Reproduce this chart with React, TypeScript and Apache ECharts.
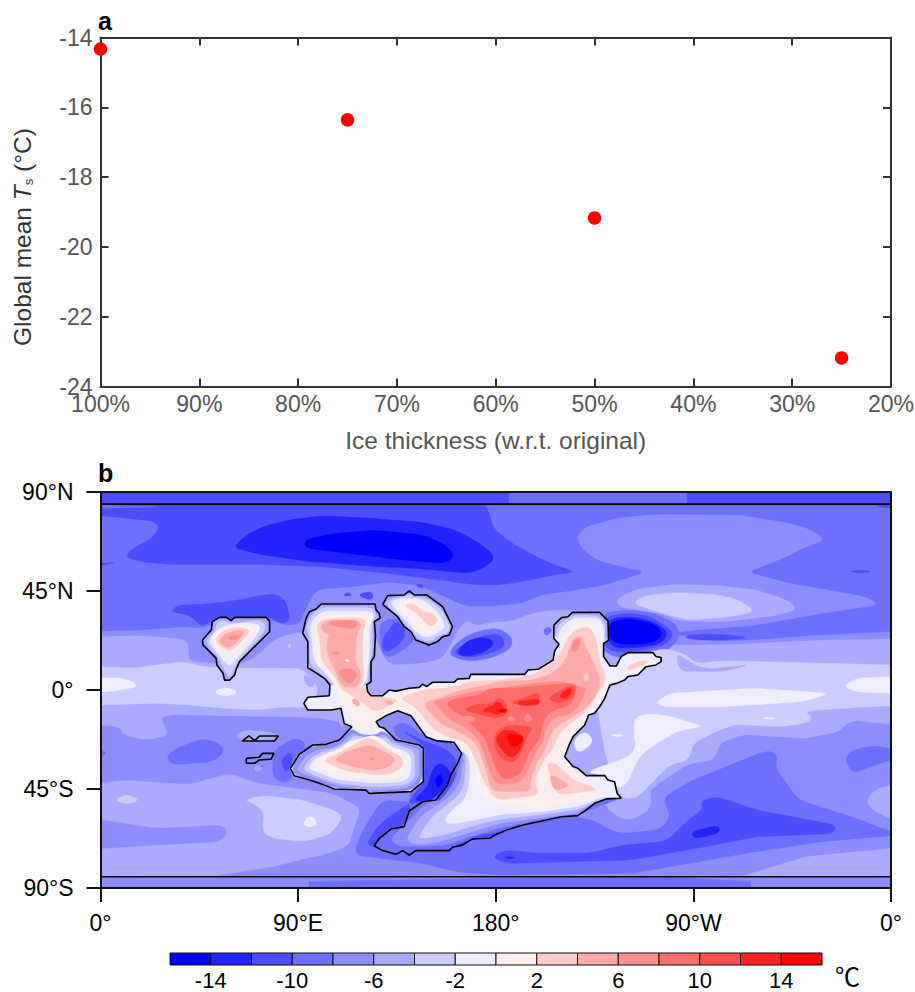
import React, { useEffect, useRef } from "react";
import * as echarts from "echarts";

// ---------- panel a ----------
const thickness = [100, 75, 50, 25];
const meanTs = [-14.33, -16.36, -19.17, -23.18];

// ---------- colour levels (-16 .. 16, 2 degree bins) ----------
const levelEdges = [-16,-14,-12,-10,-8,-6,-4,-2,0,2,4,6,8,10,12,14,16];
const LV = ["#0000ff","#2222ff","#4d4dff","#6e6eff","#8d8dff","#aaaaff","#ccccff","#eeeeff","#ffeeee","#ffcccc","#ffaaaa","#ff8d8d","#ff6e6e","#ff4d4d","#ff2222","#ff0000"];

// ---------- land outlines (lon, lat) ----------
const C1 = [100.5,39.1,125,39.1,125.5,36.4,127,34.8,127.3,32.6,124.7,31.1,125.2,25,124.7,15.2,123.2,12.9,123.2,3.8,121.2,2.3,121.7,-0.8,123.2,-2.6,128.5,-2.6,131.5,0,134.5,-0.5,140.6,0.8,145.2,1.2,146.7,2.7,148.5,1.5,151.2,3.5,161,3.5,162.6,5,167.9,5.3,168.6,7.1,193.2,7.1,194.7,9.1,199.3,9.4,206.1,13.6,206.8,17.7,208.8,20.8,206.4,23.5,206.5,29.5,209.9,32.9,212.9,33.3,214.9,35.3,227.3,35.3,231.1,31.4,231.4,22.7,229.1,21.2,229.1,15.2,232.1,10.9,234.9,10.9,237.1,15.2,240.2,17,251.5,17,253,15.2,255.3,14.8,255.3,12.9,253,11.4,248.5,10.6,244.7,6.8,240.2,6.1,238.7,4.5,234.9,3,232.1,2.3,231.1,0,229.6,-3.8,227.3,-7.6,225,-10.6,222.3,-11.4,220.5,-15.9,215.2,-21.2,213.4,-25,211.4,-30.3,215.2,-34.8,217.4,-35.6,221.2,-38.9,229.6,-38.9,231.1,-40.9,234.1,-41.7,235.3,-47,237.1,-49.2,230.3,-49.5,225,-51.5,221.2,-54.5,217.4,-57.1,209.9,-57.6,200,-59.8,192.5,-61.4,184.9,-63.6,179.6,-65.9,177.3,-67.4,169.4,-67.7,164.8,-70.5,160.3,-71.5,158.8,-73,146.7,-73,143.6,-73,140.6,-75,137.6,-73,134.5,-74.7,128.5,-73,124.7,-70.9,127,-67.4,132.3,-63.2,138.3,-62.1,140.6,-55,146.7,-50.8,152.7,-50,158,-43.2,159.5,-38.6,162.6,-33.3,164.5,-28.8,161,-23.8,152.7,-23,148.2,-21.2,141.4,-11.7,135.3,-9.4,130,-11.7,125.5,-14.4,127,-16.7,129.2,-17.4,134.5,-22.7,145.2,-25,147,-26.5,147,-41.7,141.4,-46.2,122.4,-47,120.9,-45.5,106.5,-45,101.2,-42.9,95.2,-40.9,88.3,-39,86.5,-35.6,90.6,-29.2,96.7,-25,102.7,-24.7,108.8,-22.7,114.5,-16.7,111,-15.2,109.5,-8.3,105,-9.1,94.4,-9.1,92.6,-6.1,94.4,-3.3,104.2,-2.6,104.5,2.3,102,5.3,94.4,10.2,94.4,22,92.1,25.8,93.6,32.6,95.2,35.6,98.2,36.8];
const C2 = [128.5,38.9,130.8,42.9,138.3,43.2,140.6,45,142.9,43.2,148.5,43.2,152.7,40.2,155.8,37.9,157.3,34.8,160.3,28.8,158.8,25,155.8,24.2,153.5,22,149.7,20.5,143.6,22.7,141.4,26.5,138.3,28.8,135.3,33.3];
const C3 = [46.4,22.7,50.5,27.3,50.9,31.1,54.2,33,57.3,33,59.5,31.5,61.1,33,75.5,33,77,31.1,77,26.5,63.3,12.9,61.8,9.5,61.1,6.8,58.8,4.5,56.5,4.5,55.8,7.6,53,11.4,52.7,14.4,46.7,20.5];
const C4 = [64.5,-23.2,67.6,-20.8,70.2,-23,72.4,-20.9,81,-20.9,79.2,-23.2];
const C5 = [66.4,-31.1,72.1,-30.6,73.9,-28.8,78.9,-28.8,77.7,-31.4,72.4,-31.8,70.2,-33.3,66.4,-33.3];

// ---------- filled temperature regions (lon, lat) ----------
const BASE = [0,-90,360,-90,360,90,0,90];
const STRIP_N = [0,84.5,360,84.5,360,90,0,90];
const STRIP_N2 = [186,84.5,267,84.5,267,90,186,90];
const STRIP_S = [0,-90,360,-90,360,-84.5,0,-84.5];
const STRIP_S2 = [95,-90,296,-90,296,-87,250,-84.5,95,-87];
const N_L2 = [0,84.5,175.5,84.5,175.5,83.8,177.3,79.5,178.8,73.5,186.4,67.4,195.5,62.1,206.1,57.1,216.7,53.5,207.6,52.6,195.5,50,181.8,47.7,172,47.7,162,49,131.5,53,101,56,71,57.1,31.5,57.1,17.9,58.3,11,60.6,14.8,64.4,22.4,68.2,26.5,72.7,25.5,76.5,13.3,78,0,79.2];
const N_L3S = [0,84.2,27,83.3,0,82.5];
const N_L2A = [0,57.6,8,58,0,56.5];
const N_L2B = [340,54,347,54.5,352,54,346,53];
const N_L2C = [351.5,83.8,360,84.2,360,82.6];
const N_L1 = [60.3,64.7,66.4,70.5,73.9,74.2,86,77.3,101.2,79.2,124,78,146.7,76.2,161.8,72.7,174,65.9,180,60.2,175.5,56,167.9,53,146.7,55,116.4,56.8,93.6,58.6,73.9,61.4];
const N_L0 = [92.9,68.2,104.2,70.8,124,72.7,146.7,70.5,155.8,66.7,161.8,61.4,157.3,57.6,139,59,116.4,61.7,93.6,64.4];
const L4_MAIN = [0,26.7,18,27.1,37.6,28.6,47,28,56,32,77,32,83,29.5,90.6,29.5,93.6,37,98.2,45.5,116.4,47,131.5,49,146.7,47,166,38,177.3,37.9,192.4,39.4,200,43,215,45,230,47.7,248.5,53.5,227,58.6,219.7,63.6,216.7,69.7,221,74.2,235,78,253,79.8,291,79.5,313.7,75.8,324,72.7,330,68.2,319.7,64.4,310.6,59.8,294.7,53.5,313.7,48.5,348.5,42.4,354.6,38.8,328.8,34.9,298.5,29.5,268,27,259,25.8,280,22,298.5,22.7,328.8,25,360,26.5,360,-84.5,0,-84.5];
const UP_L5 = [235,40.2,238,43.2,245.5,46,260.6,48,280.3,47.6,298.5,45.5,310.6,41.7,316,38.8,316,35.9,306,33.6,283.4,31,263.7,31.4,254.6,34.9,242.4,36.8,236.4,37.9];
const UP_L6 = [242.4,39.4,248.5,43.2,263.7,44.3,280.3,43.4,291,40.9,298.2,35.6,286.4,33.3,268.2,31.8,256,34.9,248.5,37.2];
const AF_L2 = [31.5,35.6,35.3,38.6,45.2,38.9,58.8,40.2,78.5,43.9,83.8,41.7,86,34.8,86,31.1,81.5,30.3,77,33.3,51.2,31.8,47.4,29.5,45.2,29.5,40.6,34.1];
const S_L2A = [110.3,42.7,112.6,44.7,114.8,42.7];
const S_L2B = [117.1,43.5,124,45,124,40.9,120,41.7];
const S_L2C = [143.6,47,145.6,48.8,147.4,46.2];
const L5_NORTH = [0,24.2,18,24.7,36,23.2,40,22,40,12.9,46.7,12.6,63.3,11.4,72.4,16,77.7,22,84.5,25,92,26.5,100,20,120,20,124,26.5,127.7,17.4,131.5,11.4,146.7,12,155.8,14.4,160.3,22,163.3,28,167,31.8,171,29,177.3,30.8,186.4,31,197,35,206,36.4,225,36,229,28,257.6,20.5,283.4,20.5,328.8,22.7,360,23.2,360,-15.6,341.7,-13.6,336.4,-18.9,321.2,-22,292.4,-20.2,281.8,-24.2,279.6,-31.8,268.2,-33.3,253,-43.2,250,-46.2,251,-53,245.5,-57.6,239.4,-59,234.1,-56.8,229.6,-52.3,225,-45,170,-20,150,-8,120,-5,112,-12,110.3,-17.4,108.8,-14.4,101.2,-12.9,86,-12.1,55.8,-11.7,31.5,-11.1,27,-12.9,31.5,-20.5,20.9,-22.7,10.3,-20.5,8.8,-16.7,0,-15.9];
const AS_L3 = [127,29.7,131.5,32.6,136,32,140.6,26.5,143,22.7,139,19,131.5,14.4,127.7,17.4];
const AS_L2 = [127.7,21.2,131.5,28,135.3,31.8,139,26.5,137.6,22,130,16.5];
const NP_L3 = [158,15.9,163.3,22.7,171,26.5,181.5,28.3,188,23.5,186.4,18.2,177.3,14.4,167.9,12.9];
const NP_L2 = [160.3,16.7,164.8,20.5,172.4,24.2,180.8,25.8,184,22.7,183.4,19,177.3,16.7,167.9,14.4];
const NP_L1 = [161.8,16.7,167.1,22.7,175.5,24.2,180,21.2,174,16.7,166.4,15.2];
const SP_L3 = [201.5,27.3,203.8,28.8,206,27.3,203,24.2];
const AM_L3 = [229,35,240,36.5,252,35,262,30,264,25,260,19,250,15.5,236,14.5,228,18];
const AM_L2 = [230,33.3,240,35,250,33.6,259,28,261,25,257,20.3,247,18.2,235,17,229,20];
const AM_L1 = [231,31.8,238,33.3,247,32.6,256,28.8,258.4,25,254.6,20.8,245.5,19.4,235,19,231,22];
const AM_L0 = [231.5,30.3,238,32.3,245.5,31.8,253,29.5,256,25.8,253,22,245.5,20.8,236.4,20.8,231.8,23.5];
const DASH_L2 = [265,24.2,274.3,25.5,286.4,25,295.5,23.8,283.4,22.7,271.2,22.7];
const W_L6 = [0,10.6,15,10,37.6,12.9,46.7,10.6,63.3,10,92,9.8,100,0,93.6,-8.3,86,-7.6,71,-9,55.8,-8.3,40.6,-6.8,25.5,-6,0,-6.8];
const W_L5A = [92.9,7.6,98.2,3,95.2,0.8,92.6,4.5];
const W_L6A = [85.3,20.5,86.8,20.8,86,18.2];
const W_L7A = [0,5.3,10.3,5.6,18,2,10,0,0,-1];
const W_L7B = [51,-0.8,58,1.5,63.3,-1.5,56,-3];
const E_L6 = [257.6,19,266.7,16,271.2,12,283.4,13.2,300,12.9,313.7,12.6,360,11.4,360,-7.1,320.5,-9.5,324.6,-12.9,320.5,-15.2,309,-16.7,289.4,-15.6,281.8,-18.2,269.7,-24.2,268.2,-31.8,259,-34,251.5,-41.7,244,-49.2,237,-49.2,230,-30,225,0,240,15];
const E_L5W = [262,17,271,11,277,9.5,296,11.5,283.4,8.5,263.7,8.5];
const E_L7A = [253,-5.3,259,-1.5,298.5,0.8,332,-1.5,320,-5.3,283.4,-7.6,256,-7.6];
const E_L7B = [338,1.5,344,5.3,360,6,360,-1.5,344,-0.8];
const E_L7C = [300,-12.8,307,-12.3,307,-13.5];
const E_L7D = [243,-12.1,251.5,-10.6,260,-12.1,275,-16.7,263.7,-18.2,256,-22.7,248.5,-27.3,244,-32.6,240,-42.4,235.6,-44.7,228.8,-38.6,221.2,-37.4,230.3,-34,241,-30.3,244,-25,242.8,-20.5];
const E_L7E = [215,-23.5,220.5,-18.2,225,-23.5,217.5,-29.2];
const E_L7F = [232,-20.5,235.6,-20,239,-20.7,235.6,-21.3];
const S_L5 = [0,-42.4,11.8,-41,30,-42.4,40.6,-42.9,58.8,-37.9,70.9,-42.4,89,-44.7,105.8,-47,118.6,-53.8,114.8,-64.4,113.3,-70.5,104.2,-74.2,93.6,-76.5,78.5,-80.3,63.3,-82.6,52.7,-84.4,0,-84.5];
const S_L4P = [0,-59,25.5,-62.9,55.8,-61.4,58,-65.2,54.2,-68.9,25.5,-70.5,0,-72];
const S_L6A = [6.5,-50,11.8,-47.3,18.2,-50,11.8,-52];
const S_L6B = [65.6,-50,73.9,-48,92,-50,108,-55.3,110.3,-58.3,104.2,-65.9,92,-68.9,78.5,-67.4,73.6,-64.4,74.7,-55.3,69.4,-51.5];
const S_L7 = [93.9,-57.6,97.4,-57.6,98.9,-62.1,92.1,-62.1];
const E_L5A = [292.4,-84.5,321.2,-75.8,360,-72,360,-84.5];
const E_L5B = [348.5,-50,353,-45.2,360,-43.2,360,-58.6,351.5,-54.5];
const E_L3P = [338.7,-31,342.5,-27.3,351.5,-25.3,360,-26.5,360,-31.8,348.5,-35.6,342.5,-37.9];
const S_L3 = [128.5,-50,123.2,-57.6,117.9,-66.7,115.6,-75,131.5,-77,146.7,-78.8,155,-80.8,161.8,-82.6,181.5,-84.1,242.5,-83.3,268.2,-78.8,298.5,-73.5,328.8,-68.9,360,-66.2,360,-64.4,344,-58.3,318,-50,307.3,-35.6,308.4,-28.8,303,-27.7,292.4,-31.8,268.2,-41.7,256,-49.2,259.9,-57.6,254.6,-63.6,238,-65.2,231.8,-63.6,225.8,-59.8,219.7,-58.3,207,-55.3];
const S_L2 = [273.5,-50,274.3,-54.5,266.7,-59.8,257.6,-68.9,238,-70.5,222.8,-74.2,198.5,-74.2,184.9,-72.7,178,-75.8,184.9,-78.8,215.2,-78,241,-77.3,271.2,-72,298.5,-66.7,334,-65.2,334.9,-61.4,298.5,-54.5,281.1,-48.5];
const S_L1A = [269,-64.4,281.8,-61.4,281.8,-65.2,270.5,-67.7];
const S_L1B = [183.4,-75.8,189.4,-76,186.4,-76.8];
const ST_L2 = [121.7,-68.9,126.2,-62.1,131.5,-57.6,138.3,-53,145.2,-50,146.7,-51,140.6,-55,138.3,-62.1,132.3,-63.2,127,-67.4,124.7,-70.9,122.4,-70.5];
const BAY_L3 = [133,-17.4,136.8,-14.4,142,-16.7,148.5,-22,161,-24.2,164.8,-28.8,159.5,-41.7,152.7,-50.8,140.6,-55.3,140.6,-46.2,147.4,-40.9,147.4,-25.8,136,-22.7];
const BAY_L2 = [136.8,-18.2,148.2,-23.5,157.5,-27,162.4,-31.8,160.6,-37,151.5,-50,140,-52,142.4,-47.7,147.4,-42,148.2,-25.8];
const BAY_L1 = [153.8,-33,157.5,-34.8,159.8,-37.9,158.3,-42.4,151.5,-50,145.4,-50.7,143,-49.5,149.2,-43.9,150.7,-37];
const BAY_L0 = [152.2,-40.9,154.5,-37.9,156.3,-40.9,153.8,-45.1];
const SW_L3A = [29.7,-30.3,34.5,-26.5,46.7,-22,54.2,-24.2,56.5,-28,51.2,-32.6,33,-34];
const SW_L3B = [0,-27,3,-28.8,0,-30.3];
const SW_L3C = [78.5,-31.8,79.2,-27.3,87.6,-22,92.1,-22.7,93.6,-26.5,89,-29.5,86,-35.6,87.6,-40.2,83,-42.4,78.5,-39.4];
const SW_L2 = [82.3,-31.8,86,-28,87.6,-31,86,-36.4,83.8,-37.1];
const SW_L5A = [69.4,-35.6,71.7,-34.1,73.9,-35.6,71.7,-37.4];
const SW_L5B = [61.4,-20.5,65.6,-18.2,77,-18.9,81,-20.9,79.2,-23.2,64.5,-23.2];
// land interiors
const C3_L6 = [48.2,22.7,52,26.5,52.7,30.3,55.8,31.8,59.5,30.3,72.4,31.8,75.5,29.5,73.2,24.2,66.4,17.4,61.8,12.1,59.5,6.1,58,6.1,55.8,10.6,53.5,15.2,48.9,20.5];
const C3_L7 = [49.4,22.7,53.5,28,60.3,30.3,70.9,30.3,73.2,28,67.9,20.5,61.8,14.4,58.8,10.6,55.8,13.6,50.5,20.5];
const C3_L8 = [50.9,23.5,54.2,27.3,61.8,29.5,69.4,28.8,70.2,25.8,63.3,18.9,58.8,15.9,55,16.7,52,20.5];
const C3_L9 = [52.4,23.5,55,26.5,61.8,28.8,67.9,27.7,67.1,25,60.3,18.2,57.3,18.2,53.5,20.5];
const C3_L10 = [54.2,23.5,58.8,26.5,66.4,27.7,63.3,22.7,58.8,18.9,55,20.5];
const C3_L11 = [57.6,23.8,61.1,25,64.1,24.2,60.6,22.3];
const C2_L6 = [130,38.9,132.3,41.7,138.3,42,140.6,43.6,142.9,42,148.2,42,155,37.1,159.5,28.8,158,25.8,155,25.3,149.7,21.7,144.4,23.5,135.3,34.1];
const C2_L7 = [132.3,39.4,133.8,40.9,140.6,42,147.4,40.9,154.2,34.8,157.3,28.8,154.2,26.5,149.7,23.8,145.2,25,140.6,30.3,136,34.8];
const C2_L8 = [134.5,38.9,140.6,41.4,146.7,39.4,152.7,34.8,155.8,29.5,152,26.5,148.9,25.3,144.4,28,140.6,32.6,137.6,35.6];
const C2_L9 = [138.3,38.6,142.9,39.4,146.7,35.6,152,34.8,154.2,31,149.7,28.3,144.4,34.8,140.6,37.1];
const NB_L5 = [92.1,25.8,93.6,32.6,95.2,35.6,98.2,36.8,100.5,39.1,125,39.1,125.5,36.4,127,34.8,127.3,32.6,124.7,31.1,125.2,25,124.7,15.2,123.2,12.9,123.2,3.8,121.2,2.3,118,1.5,104.5,2.3,102,5.3,94.4,10.2,94.4,22];
const NB_L6 = [93.6,29.5,96.7,34.8,101.2,37.6,123.9,37.6,125.8,34.1,123.6,30.8,123.9,22,123.2,14.4,122.1,11.4,122.1,3.8,119.4,2.3,105.8,2.3,101.2,6.8,95.4,11.4,95.2,22];
const NB_L7 = [95.2,28.8,98.2,33.8,102,35.9,123.2,35.9,124.7,33.3,122.4,29.5,122.7,20.5,122.1,12.9,120.9,2.3,106.5,2.3,102.7,7.6,97,12.9,96.4,22];
const NB_L8 = [97,28.8,99.7,32.6,102.7,34.1,121.7,34.1,123.2,31.8,121,28,121,20.5,120.6,11.4,120.2,0.8,108,-0.8,104.2,6.8,98.5,12.9,97.9,22];
const NB_L9 = [98.2,29.5,101.2,32.3,118.6,32.9,121.2,31,119.4,26.5,119.4,18.9,119.1,12.9,120.2,8.3,118.6,0.8,110.3,-1.5,106.5,6.8,100.5,12.9,100,22];
const NB_L10 = [100.5,29.8,104.2,31.8,117.1,31.8,119.1,29.5,116.4,25,116.4,17.4,115.6,12.9,119.4,6.8,116.4,0.8,110.3,0.8,107,8.3,103.5,15.9,103,22,104.5,25,101.2,26.5];
const NB_L11A = [104.2,31.5,116.4,31.8,117.1,28.8,114.8,27.7,104.2,29.5];
const NB_L11B = [108,9.5,115.6,9.8,117.1,6,113.3,2.3,109.5,6];
const NB_L11C = [104.5,16.7,108.8,17.4,108,15.9];
const NB_L8T = [111,12.9,112.1,14.4,114,12.9];
const SB_L4 = [87,-35.6,90.9,-29.5,97,-25.3,103,-25,109.1,-23.2,114.1,-17.1,118.6,-20.5,125.5,-20.5,128.5,-18.2,134.5,-23.2,145.5,-25.6,146.5,-26.5,146.5,-41.4,141,-45.8,122.7,-46.5,121.2,-45,106.7,-44.5,101.2,-42.4,95.2,-40.5,88.6,-38.6];
const SB_L5 = [89.4,-35.6,93.3,-30.3,98.9,-27,105,-26.5,110.3,-24.2,114.8,-18.9,119.4,-22,125.5,-21.7,129.2,-19.7,133.8,-23.8,144.4,-26.5,145.2,-28.8,145.2,-40.2,139.8,-44.7,123.2,-45.5,107.3,-43.5,102,-41.4,95.9,-39.4,90.6,-37.4];
const SB_L6 = [92.1,-35.6,95.9,-30.8,101.2,-28,107.3,-26.5,111.8,-24.2,115.6,-20.5,125.5,-22.7,130,-21.2,133,-24.7,142.9,-27.3,143.3,-40.2,139.1,-43.2,123.9,-44.1,108,-42.4,101.2,-40.2,95.2,-37.9];
const SB_L7 = [94.4,-35.6,97.4,-31.4,103,-28.8,109.5,-26.5,114.8,-22,125.5,-23.5,132.3,-25.8,141.4,-28.8,141.4,-38.6,138.3,-41.7,125.5,-42.4,108.8,-40.9,102,-38.6,96.7,-36.4];
const SB_L8 = [96.7,-34.1,101.2,-29.8,107.3,-28,114.8,-23.5,120.9,-21.2,125.5,-20.5,134.5,-27.3,139.1,-30.3,139.1,-37.9,136,-40.2,125.5,-40.9,110.3,-39.4,104.2,-37.4,99.7,-35.6];
const SB_L9 = [101.2,-31.8,110.3,-28,116.4,-24.2,122.4,-21.2,131.5,-27.3,139.1,-31.8,134.5,-37.9,125.5,-38.6,113.3,-37.1,105,-34.1];
const SB_L10 = [105.8,-31.8,111.8,-28,123.2,-24.7,135.3,-31.4,130.8,-35.3,123.9,-36.7,114.8,-34.8];
const SB_L11 = [122.4,-31.4,123.9,-30.5,124.7,-31.7];
const ARM_OUTER = [164.5,-28.8,162.6,-33.3,159.5,-38.6,158,-43.2,152.7,-50,146.7,-50.8,140.6,-55,138.3,-62.1,132.3,-63.2,127,-67.4,124.7,-70.9,128.5,-73,134.5,-74.7,137.6,-73,140.6,-75,143.6,-73,146.7,-73,158.8,-73,160.3,-71.5,164.8,-70.5,169.4,-67.7,177.3,-67.4,179.6,-65.9,184.9,-63.6,192.5,-61.4,200,-59.8,209.9,-57.6,217.4,-57.1,221.2,-54.5,225,-51.5,230.3,-49.5,237.1,-49.2];
const ARM_IN_L6 = [228.8,-48.5,218.2,-53,200,-55.6,181.8,-56.8,168.2,-59.8,158.3,-61.3,156.3,-59,160.6,-53.8,165.9,-50,167.9,-42.4,168.2,-33.3,166.6,-28.8];
const ARM_IN_L5 = [227.3,-50,218.2,-54.5,200,-56.8,181.8,-59,171.2,-61.3,157.5,-65.9,145.4,-67.9,145.1,-65.9,151.5,-56.8,159.8,-50.7,165.1,-45.4,165.9,-37.8,166.3,-31.8,165.6,-28];
const ARM_IN_L4 = [225.8,-50.8,217.4,-56,200,-58.3,181.8,-60.9,169.7,-64.4,153,-69.7,142.4,-70.4,139.4,-67.9,140.1,-65.9,145.4,-57.5,152.2,-53,159.8,-47.7,163.9,-41.6,164.4,-35.6,165.4,-29.5];
const ARM_IN_L3 = [216.7,-56.8,200,-59,181.8,-62.9,171.2,-65.9,156,-70.9,136.3,-71.2,132.5,-68.9,133.3,-65.9,139.4,-60.6,145.4,-53.8,153,-48.5,160.6,-42.4,162.4,-37.9,163.6,-33.3];
const ARM_L2A = [179.6,-65.9,177.3,-67.4,169.4,-67.7,164.8,-70.5,160.3,-71.5,161.3,-71,171.2,-66.4,181.8,-64.6];
const ARM_L2B = [161,-35.5,159.5,-38.6,158,-43.2,152.7,-50,154.5,-50.5,160,-43.5,162,-38];
const NA_L6 = [206.5,29.5,209.9,32.9,212.9,33.3,214.9,35.3,227.3,35.3,231.1,31.4,231.4,22.7,229.3,22,229.3,29.5,226.5,33,216,33,213,31.2,209.9,28.6,208.4,24.8,207.6,22.5];
const NA_L5 = [206.5,29.5,209.9,32.9,212.9,33.3,214.9,35.3,227.3,35.3,231.1,31.4,231.4,22.7,229.9,23.5,229.9,30.3,226.5,34.1,215.2,34.1,212.1,32.3,208.4,29.5,207.3,26.5,207,23.5];
const PE_L8 = [237.9,8.3,243.2,13.6,250,14.7,251.5,12.9,245.5,9.8,240.2,6.8];
const PE_L9 = [239.4,10,244,12.9,248.5,13.6,249.7,12.6,245.5,10.6,241,8.8];
const WARM_L8 = [106.5,0,111,-6.8,114.8,-14.4,117.9,-18.9,124,-15.2,131.5,-10.6,135.3,-8,141.4,-10.2,149,-18.9,153.5,-21.2,161.8,-22,167,-27,169.7,-31.8,171.2,-42.4,174.5,-49,181.8,-52.2,200,-53.5,222.8,-50,228,-47,227.3,-45,219.7,-40.9,213.7,-34.8,209.9,-30.3,212.9,-24.2,216.7,-18.9,222,-12.9,226.5,-6.8,229.6,0,230.3,3.8,228,12.9,226.5,23.5,224.3,30.3,218.2,31,212.9,28,209.9,22,209.9,15.9,206,11.4,200,8,193.2,5.6,167.9,3.5,161,2,151.2,1.5,142,-0.8,134.5,-2,128.5,-3.8,122.4,-3.8,121,-1.5];
const IS_L9 = [108,1.5,114.8,-3,120.9,-6.8,123.9,-9.8,128.5,-9.1,131.5,-6.8,136,-4.5,127,-3,122.4,-2.3,121.7,0.8];
const IS_L10A = [114,-4.5,116.4,-3.8,118.6,-6.8,116.4,-7.6];
const IS_L10B = [129.2,-5.3,131.5,-4.5,133.8,-6,131.5,-7.1];
const WARM_L9 = [146.7,0,161.8,1.5,167.9,3.8,181.8,4.5,197,6.8,204.6,12,209.9,17.4,212.9,24.2,217.4,28,222.8,28.8,225.8,23.5,227.3,12.9,230.3,6.8,229.6,2.3,227.3,0,224.3,-5.3,220.5,-10.6,213.7,-15.2,208.4,-20.5,206,-27.3,203,-30.3,199.3,-37.1,197.8,-41.7,200,-47.7,180,-50,175,-42.4,171,-32,167,-24,155.8,-20.5,149.7,-15.9,145.2,-9.8,140.6,-6,136,-3.8];
const TAIL_L9 = [203,-34,207.6,-47.7,227.3,-45.5,215.2,-40.9,210.6,-36.4,206,-32.6];
const TAIL_L8 = [199.3,-37.9,203,-32.6,206.8,-47.7,202.3,-48.5];
const TAIL_L10 = [204.6,-37.9,214.4,-43.2,207.6,-45.9,205.3,-43.2];
const WARM_L10 = [161.8,-0.8,181.5,3.8,197,4.5,206.1,7.6,211.4,12.9,213.7,18.9,215.2,23.5,219,25,220.5,20.5,224.3,12.9,228,3.8,225.8,-2.3,221.2,-8.3,213.7,-12.9,208.4,-15.9,204.6,-20.5,202.3,-28,198.5,-33.3,195.5,-41.7,196.2,-46.2,178,-46,177,-41.5,174.2,-31.8,171,-23.7,163.3,-18.9,155.8,-15.9,151.2,-11.4,146.7,-6,154.2,-3.8];
const WARM_L11 = [221.2,0,218.2,-6.8,213.7,-11.4,206.8,-12.1,203,-16.7,201.5,-23.5,198.5,-28,196.2,-33.3,193.2,-39.4,190.2,-42.4,180,-43,177,-36.4,175,-29.5,172,-22,164.8,-15.9,158.8,-13.6,154.2,-8.3,151.2,-5.3,157.3,-3.8,169.4,-0.8,181.8,0.8,192.5,2.3,203,3.8,212.1,3.8,215.2,2.3,221.2,0.8];
const FIN_L11 = [213.7,18.9,217.5,24.2,219,21.2,216,16.7];
const SPOT_L9 = [219.7,5.3,221.2,8.3,222.8,5.6,221.2,3.8];
const WARM_L12 = [217.4,2.3,215.2,-5.3,212.1,-7.6,206.1,-9.1,201.5,-13.6,200,-22.7,196.2,-26.5,193.2,-33.3,191.7,-37.9,184.9,-40.9,182,-39,179,-33,177,-26.5,174,-20.5,166.4,-12.9,160.3,-9.1,157.3,-6,161.8,-3.8,172.4,-2.3,177,0.8,186.4,0.8,203,2.3,213.7,3];
const L13A = [180.3,-18.2,186.4,-15.9,197,-16.7,194.7,-20.5,192.5,-26.5,188.7,-33.3,182.6,-31.8,178.8,-25];
const L13B = [164.8,-9.1,171.6,-6,177.3,-6.8,181.8,-3,184.9,-6.8,185.6,-10.6,181.8,-12.9,177.3,-12.1,171,-10.5];
const L13C = [186.4,-6,200,-0.8,200,-5.3,192.5,-6.8];
const L13D = [204.6,-3,213.7,2.3,216.7,0.8,214.4,-4.5,208.4,-6,204.6,-4.5];
const L14A = [180.6,-20.5,184.9,-17.4,192.5,-20.5,192.5,-25,187.9,-31.8,182.6,-27.3,180.3,-23.5];
const L14B = [177.3,-8.3,181.1,-4.5,184.1,-8.3,181.8,-11.4,177.3,-10.6];
const L14C = [189.4,-5.3,200,-3.8,200,-6.8,190.9,-7.1];
const L14D = [208.4,-2.3,214.4,1.5,214.4,-1.5,211.4,-4.5];
const L14E = [173.2,-9.1,179.2,-6.8,177,-10.6];
const L15A = [185.2,-19.7,191.7,-20.5,192.5,-22.7,188.7,-26.5,185.6,-23.5];
const L15B = [181.1,-9.1,184.9,-8.3,184.9,-10.2,181.8,-10.2];
const PK_A = [184.9,-12.9,187.6,-11.7,189.4,-13.6,187.1,-14.4];
const PK_B = [192.5,-12.9,194.7,-10.2,197,-13.6,194.3,-14.7];
const PK_C = [163.3,-12.9,167.9,-11.4,171.7,-13.3,167.9,-15.2];

// paint order: each entry is [colour level, outline]
const LAYERS: [number, number[]][] = [
  [3,BASE],[2,STRIP_N],[3,STRIP_N2],[4,STRIP_S],[3,STRIP_S2],
  [2,N_L2],[3,N_L3S],[2,N_L2A],[2,N_L2B],[2,N_L2C],[1,N_L1],[0,N_L0],
  [4,L4_MAIN],[5,UP_L5],[6,UP_L6],[2,AF_L2],[2,S_L2A],[2,S_L2B],[2,S_L2C],
  [5,L5_NORTH],[3,AS_L3],[2,AS_L2],[3,NP_L3],[2,NP_L2],[1,NP_L1],[3,SP_L3],
  [3,AM_L3],[2,AM_L2],[1,AM_L1],[0,AM_L0],[2,DASH_L2],
  [6,W_L6],[5,W_L5A],[6,W_L6A],[7,W_L7A],[7,W_L7B],
  [6,E_L6],[5,E_L5W],[7,E_L7A],[7,E_L7B],[7,E_L7C],[7,E_L7D],[7,E_L7E],[7,E_L7F],
  [5,S_L5],[4,S_L4P],[6,S_L6A],[6,S_L6B],[7,S_L7],
  [5,E_L5A],[5,E_L5B],[3,E_L3P],[3,S_L3],[2,S_L2],[1,S_L1A],[1,S_L1B],[2,ST_L2],
  [3,BAY_L3],[2,BAY_L2],[1,BAY_L1],[0,BAY_L0],
  [3,SW_L3A],[3,SW_L3B],[3,SW_L3C],[2,SW_L2],[5,SW_L5A],[5,SW_L5B],
  [5,C3],[6,C3_L6],[7,C3_L7],[8,C3_L8],[9,C3_L9],[10,C3_L10],[11,C3_L11],
  [5,C2],[6,C2_L6],[7,C2_L7],[8,C2_L8],[9,C2_L9],
  [7,C1],
  [6,[...ARM_OUTER,...ARM_IN_L6]],[5,[...ARM_OUTER,...ARM_IN_L5]],[4,[...ARM_OUTER,...ARM_IN_L4]],[3,[...ARM_OUTER,...ARM_IN_L3]],[2,ARM_L2A],[2,ARM_L2B],
  [6,NA_L6],[5,NA_L5],[8,PE_L8],[9,PE_L9],
  [4,SB_L4],[5,SB_L5],[6,SB_L6],[7,SB_L7],[8,SB_L8],[9,SB_L9],[10,SB_L10],[11,SB_L11],
  [5,NB_L5],[6,NB_L6],[7,NB_L7],[8,NB_L8],[9,NB_L9],[10,NB_L10],[11,NB_L11A],[11,NB_L11B],[11,NB_L11C],[8,NB_L8T],
  [8,WARM_L8],[9,IS_L9],[10,IS_L10A],[10,IS_L10B],[9,WARM_L9],[9,TAIL_L9],[8,TAIL_L8],[10,TAIL_L10],
  [10,WARM_L10],[11,WARM_L11],[11,FIN_L11],[9,SPOT_L9],[12,WARM_L12],
  [13,L13A],[13,L13B],[13,L13C],[13,L13D],[14,L14A],[14,L14B],[14,L14C],[14,L14D],[14,L14E],[15,L15A],[15,L15B],
  [11,PK_A],[11,PK_B],[11,PK_C],
];
const OUTLINES = [C1, C2, C3, C4, C5];
const polarLines = [84.5, -84.9];
// outlines that keep their hard corners when drawn
const HARD = new Set<number[]>([BASE, STRIP_N, STRIP_N2, STRIP_S, STRIP_S2, C1, C2, C3]);

const pairs = (f: number[]) => {
  const out: number[][] = [];
  for (let i = 0; i < f.length; i += 2) out.push([f[i], f[i + 1]]);
  return out;
};
const closed = (f: number[]) => { const p = pairs(f); return [...p, p[0]]; };
// softens the polygon corners, as a contour plot's curves have no hard joints
const soften = (pts: number[][], cap: number) => {
  const out: number[][] = [];
  pts.forEach((p, i) => {
    if (p[0] <= 0 || p[0] >= 360 || Math.abs(p[1]) >= 84) { out.push(p); return; }
    const side = (q: number[]) => {
      const d = Math.hypot(q[0] - p[0], q[1] - p[1]) || 1;
      const t = Math.min(0.25, cap / d);
      return [p[0] + (q[0] - p[0]) * t, p[1] + (q[1] - p[1]) * t];
    };
    out.push(side(pts[(i + pts.length - 1) % pts.length]), side(pts[(i + 1) % pts.length]));
  });
  return out;
};
const outline = (f: number[]) =>
  HARD.has(f) ? pairs(f) : soften(soften(pairs(f), 2), 1);
const DRAWN = LAYERS.map(([, f]) => outline(f));

const FONT = '"Liberation Sans", Arial, sans-serif';

export default function App() {
  const ref = useRef<HTMLDivElement>(null);
  useEffect(() => {
    const chart = echarts.init(ref.current!, null, { renderer: "svg" });
    const lineSeries = (data: number[][]) => ({
      type: "line", xAxisIndex: 2, yAxisIndex: 2, data, showSymbol: false, silent: true, z: 4,
      lineStyle: { color: "#000", width: 1.6 }, animation: false,
    });
    chart.setOption({
      animation: false,
      backgroundColor: "#fff",
      textStyle: { fontFamily: FONT },
      grid: [
        { left: 100.5, top: 37.5, width: 790.5, height: 349, outerBoundsMode: "none" },
        { left: 100.5, top: 492, width: 790.5, height: 396, outerBoundsMode: "none" },
        { left: 170, top: 953, width: 652, height: 12, outerBoundsMode: "none" },
      ],
      xAxis: [
        { gridIndex: 0, type: "value", min: 20, max: 100, interval: 10, inverse: true, z: 5,
          name: "Ice thickness (w.r.t. original)", nameLocation: "middle", nameGap: 41,
          nameTextStyle: { color: "#555", fontSize: 24.5, fontFamily: FONT },
          axisLine: { onZero: false, lineStyle: { color: "#333", width: 2 } },
          axisTick: { inside: true, length: 8, lineStyle: { color: "#333", width: 2 } },
          axisLabel: { color: "#555", fontSize: 23, margin: 6, fontFamily: FONT, formatter: (v: number) => `${v}%`, hideOverlap: false },
          splitLine: { show: false } },
        { gridIndex: 0, type: "value", min: 20, max: 100, interval: 10, inverse: true, position: "top", z: 5,
          axisLine: { onZero: false, lineStyle: { color: "#333", width: 2 } },
          axisTick: { inside: true, length: 8, lineStyle: { color: "#333", width: 2 } },
          axisLabel: { show: false }, splitLine: { show: false } },
        { gridIndex: 1, type: "value", min: 0, max: 360, interval: 90, z: 5,
          axisLine: { onZero: false, lineStyle: { color: "#111", width: 2 } },
          axisTick: { length: 14, lineStyle: { color: "#111", width: 2 } },
          axisLabel: { color: "#000", fontSize: 23, margin: 23, fontFamily: FONT, hideOverlap: false,
            formatter: (v: number) => ({ 0: "0°", 90: "90°E", 180: "180°", 270: "90°W", 360: "0°" } as any)[v] },
          splitLine: { show: false } },
        { gridIndex: 1, type: "value", min: 0, max: 360, interval: 90, position: "top", z: 5,
          axisLine: { onZero: false, lineStyle: { color: "#111", width: 2 } },
          axisTick: { show: false }, axisLabel: { show: false }, splitLine: { show: false } },
        { gridIndex: 2, type: "value", min: -16, max: 16, interval: 2, z: 5,
          axisLine: { show: false }, axisTick: { show: false },
          axisLabel: { color: "#000", fontSize: 22, margin: 4, fontFamily: FONT, hideOverlap: false,
            formatter: (v: number) => (((v + 16) % 4 === 2) ? String(v) : "") },
          splitLine: { show: false } },
      ],
      yAxis: [
        { gridIndex: 0, type: "value", min: -24, max: -14, interval: 2, z: 5,
          axisLine: { onZero: false, lineStyle: { color: "#333", width: 2 } },
          axisTick: { inside: true, length: 8, lineStyle: { color: "#333", width: 2 } },
          axisLabel: { color: "#555", fontSize: 23, margin: 8, fontFamily: FONT, hideOverlap: false },
          splitLine: { show: false } },
        { gridIndex: 0, type: "value", min: -24, max: -14, interval: 2, position: "right", z: 5,
          axisLine: { onZero: false, lineStyle: { color: "#333", width: 2 } },
          axisTick: { inside: true, length: 8, lineStyle: { color: "#333", width: 2 } },
          axisLabel: { show: false }, splitLine: { show: false } },
        { gridIndex: 1, type: "value", min: -90, max: 90, interval: 45, z: 5,
          axisLine: { onZero: false, lineStyle: { color: "#111", width: 2 } },
          axisTick: { length: 14, lineStyle: { color: "#111", width: 2 } },
          axisLabel: { color: "#000", fontSize: 23, margin: 27, fontFamily: FONT, hideOverlap: false,
            formatter: (v: number) => (v === 0 ? "0°" : `${Math.abs(v)}°${v > 0 ? "N" : "S"}`) },
          splitLine: { show: false } },
        { gridIndex: 1, type: "value", min: -90, max: 90, interval: 45, position: "right", z: 5,
          axisLine: { onZero: false, lineStyle: { color: "#111", width: 2 } },
          axisTick: { show: false }, axisLabel: { show: false }, splitLine: { show: false } },
        { gridIndex: 2, type: "value", min: 0, max: 1, show: false },
      ],
      series: [
        { type: "scatter", xAxisIndex: 0, yAxisIndex: 0, clip: false, z: 6, symbolSize: 13.5,
          itemStyle: { color: "#ff0000", opacity: 1 },
          data: thickness.map((t, i) => [t, meanTs[i]]) },
        { type: "custom", xAxisIndex: 2, yAxisIndex: 2, silent: true, clip: true, z: 1,
          data: LAYERS.map((_, i) => [i]),
          encode: { x: -1, y: -1 },
          renderItem: (_p: any, api: any) => {
            const i = api.value(0);
            const lv = LAYERS[i][0];
            return { type: "polygon", shape: { points: DRAWN[i].map((c) => api.coord(c)) },
              style: { fill: LV[lv], stroke: LV[lv], lineWidth: 0.4 } };
          } },
        ...OUTLINES.map((o) => lineSeries(closed(o))),
        ...polarLines.map((lat) => lineSeries([[0, lat], [360, lat]])),
        { type: "custom", xAxisIndex: 4, yAxisIndex: 4, silent: true, z: 1,
          data: LV.map((_, i) => [levelEdges[i], levelEdges[i + 1], i]),
          encode: { x: [0, 1] },
          renderItem: (_p: any, api: any) => {
            const a = api.coord([api.value(0), 1]);
            const b = api.coord([api.value(1), 0]);
            return { type: "rect", shape: { x: a[0], y: a[1], width: b[0] - a[0], height: b[1] - a[1] },
              style: { fill: LV[api.value(2)], stroke: "#111", lineWidth: 1 } };
          } },
      ],
      graphic: [
        { type: "text", x: 98, y: 8, style: { text: "a", font: `bold 25px ${FONT}`, fill: "#000" } },
        { type: "text", x: 98, y: 460, style: { text: "b", font: `bold 25px ${FONT}`, fill: "#000" } },
        { type: "text", x: 10, y: 346, rotation: Math.PI / 2,
          style: { text: "Global mean {i|T}{s|s} (°C)", font: `24.5px ${FONT}`, fill: "#333",
            rich: { i: { font: `italic 24.5px ${FONT}`, fill: "#333" }, s: { font: `13px ${FONT}`, fill: "#333", verticalAlign: "bottom", padding: [7, 0, 0, 0] } } } },
        { type: "text", x: 835, y: 962, style: { text: "℃", font: `25px "Noto Sans CJK SC"`, fill: "#000" } },
      ],
    });
    return () => chart.dispose();
  }, []);
  return <div ref={ref} style={{ position: "fixed", left: 0, top: 0, width: 915, height: 992 }} />;
}
